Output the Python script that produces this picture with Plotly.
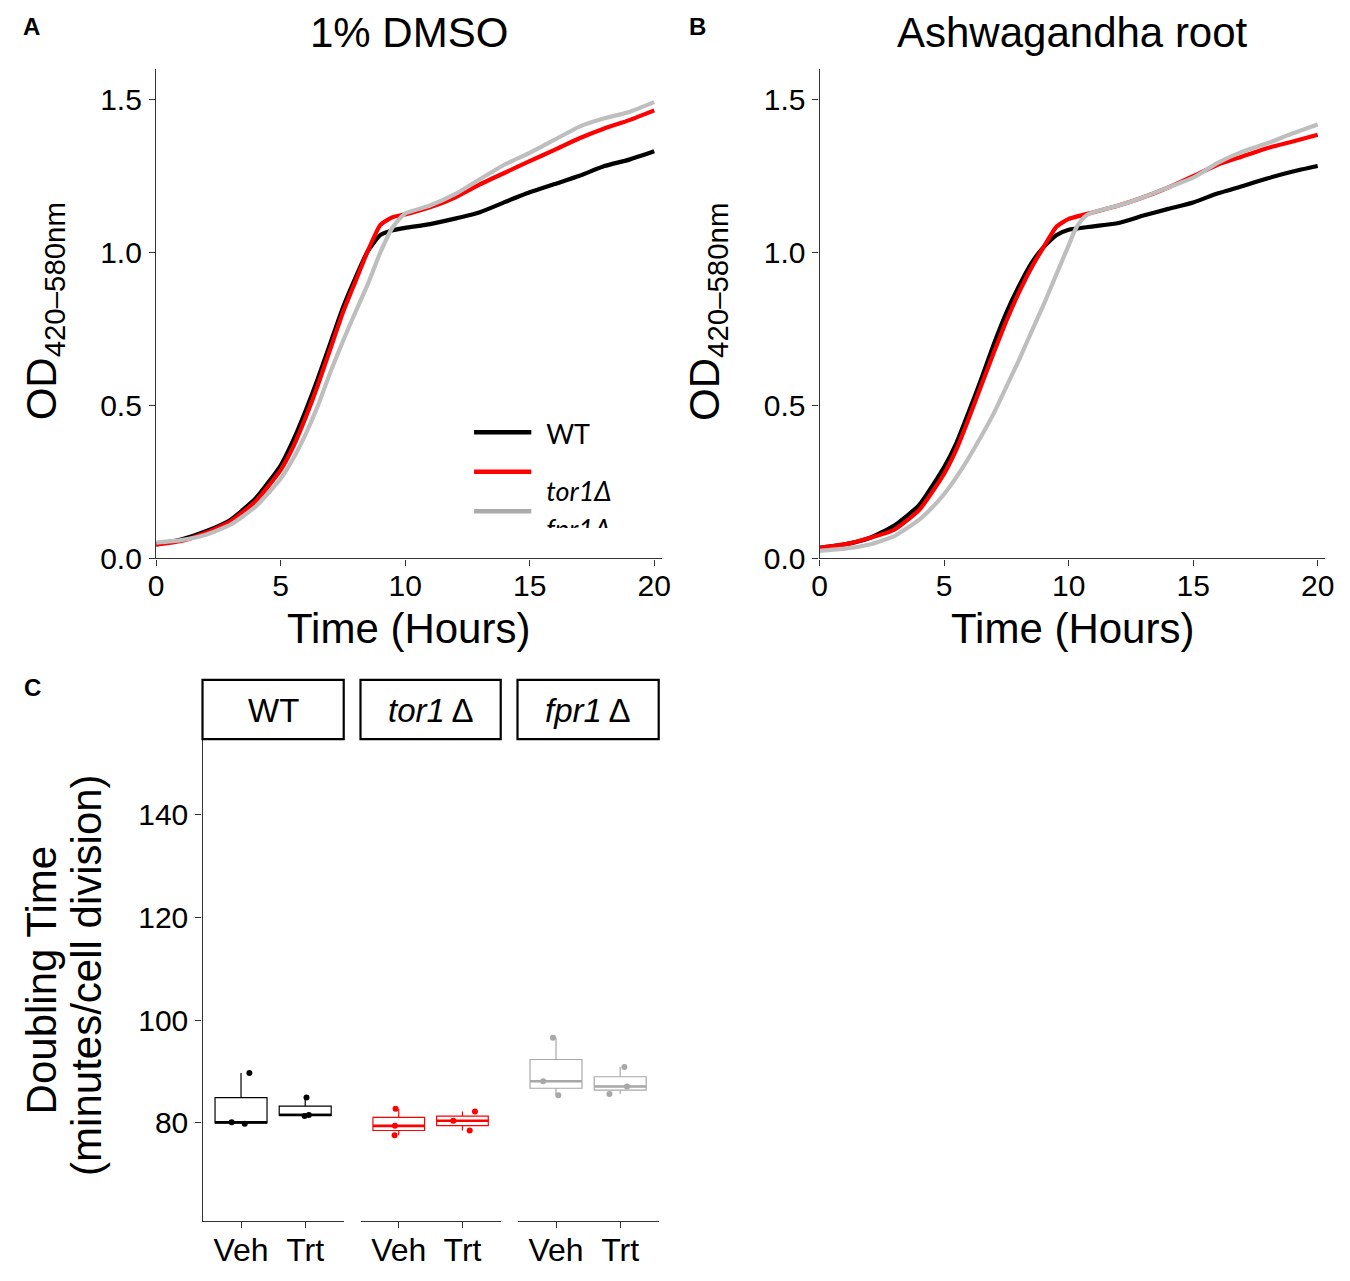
import numpy as np
import plotly.graph_objects as go

W, H = 1350, 1281
FONT = "Liberation Sans, Arial, sans-serif"

# ---------------- data ----------------
time_h = [0, 1, 2, 3, 4, 5, 5.5, 6, 6.5, 7, 7.5, 8, 8.5, 9, 9.5, 10,
          11, 12, 13, 14, 15, 16, 17, 18, 19, 20]

dmso_wt = [0.046, 0.062, 0.089, 0.127, 0.197, 0.304, 0.385, 0.482, 0.589, 0.705,
           0.820, 0.917, 1.005, 1.057, 1.073, 1.081, 1.093, 1.111, 1.132, 1.165,
           1.197, 1.224, 1.251, 1.283, 1.304, 1.331]
dmso_tor1 = [0.045, 0.057, 0.084, 0.122, 0.187, 0.289, 0.364, 0.460, 0.568, 0.686,
             0.804, 0.905, 1.005, 1.090, 1.116, 1.125, 1.148, 1.180, 1.223, 1.261,
             1.299, 1.336, 1.374, 1.406, 1.433, 1.465]
dmso_fpr1 = [0.052, 0.060, 0.078, 0.111, 0.170, 0.261, 0.326, 0.406, 0.500, 0.610,
             0.710, 0.805, 0.897, 1.000, 1.083, 1.128, 1.154, 1.191, 1.240, 1.288,
             1.326, 1.369, 1.412, 1.439, 1.460, 1.492]

ash_wt = [0.035, 0.046, 0.067, 0.108, 0.175, 0.299, 0.379, 0.482, 0.589, 0.702,
          0.804, 0.890, 0.965, 1.019, 1.057, 1.075, 1.086, 1.097, 1.121, 1.143,
          1.164, 1.194, 1.218, 1.243, 1.265, 1.283]
ash_tor1 = [0.035, 0.046, 0.067, 0.094, 0.159, 0.277, 0.358, 0.460, 0.568, 0.675,
            0.777, 0.869, 0.950, 1.019, 1.084, 1.110, 1.132, 1.154, 1.181, 1.213,
            1.250, 1.288, 1.315, 1.342, 1.363, 1.385]
time_h_ash_fpr1 = [0, 1, 2, 3, 4, 4.5, 5, 5.5, 6, 6.5, 7, 7.5, 8, 8.5, 9, 9.5, 10,
                   10.25, 10.5, 10.75, 11, 12, 13, 14, 15, 16, 17, 18, 19, 20]
ash_fpr1 = [0.025, 0.032, 0.046, 0.073, 0.127, 0.165, 0.211, 0.267, 0.331, 0.401,
            0.476, 0.562, 0.648, 0.740, 0.831, 0.928, 1.024, 1.073, 1.105, 1.124,
            1.132, 1.154, 1.181, 1.213, 1.245, 1.294, 1.331, 1.358, 1.390, 1.419]

strains = ["WT", "tor1Δ", "fpr1Δ"]
strain_labels = ["WT", "<i>tor1</i>\u2009Δ", "<i>fpr1</i>\u2009Δ"]
legend_labels = ["WT", "<i>tor1Δ</i>", "<i>fpr1Δ</i>"]
treatments = ["Veh", "Trt"]

# doubling time (minutes/cell division), three replicates each
wt_veh = [80.06, 79.8, 89.7]
wt_trt = [81.3, 81.5, 84.9]
tor1_veh = [82.7, 79.37, 77.56]
tor1_trt = [80.38, 82.17, 78.46]
fpr1_veh = [96.54, 88.08, 85.33]
fpr1_trt = [90.83, 87.06, 85.58]

# horizontal jitter of the plotted replicate points
jit_wt_veh = [-0.146, 0.058, 0.13]
jit_wt_trt = [-0.01, 0.057, 0.02]
jit_tor1_veh = [-0.05, -0.06, -0.065]
jit_tor1_trt = [-0.145, 0.196, 0.113]
jit_fpr1_veh = [-0.047, -0.2, 0.036]
jit_fpr1_trt = [0.065, 0.105, -0.168]

line_colors = ["#000000", "#FF0000", "#BEBEBE"]
box_colors = ["#000000", "#FF0000", "#A8A8A8"]
legend_key_colors = ["#000000", "#FF0000", "#ABABAB"]


def px(xp):
    return xp / W


def py(yp):
    return 1 - yp / H


fig = go.Figure()

# ---------------- growth curves ----------------
curves_a = [(time_h, dmso_wt), (time_h, dmso_tor1), (time_h, dmso_fpr1)]
curves_b = [(time_h, ash_wt), (time_h, ash_tor1), (time_h_ash_fpr1, ash_fpr1)]
for (xa, ya), name, col in zip(curves_a, strains, line_colors):
    fig.add_trace(go.Scatter(x=xa, y=ya, mode="lines", name=name,
                             line=dict(color=col, width=4.2, shape="spline",
                                       smoothing=0.5),
                             xaxis="x", yaxis="y", showlegend=False))
for (xb, yb), name, col in zip(curves_b, strains, line_colors):
    fig.add_trace(go.Scatter(x=xb, y=yb, mode="lines", name=name,
                             line=dict(color=col, width=4.2, shape="spline",
                                       smoothing=0.5),
                             xaxis="x2", yaxis="y2", showlegend=False))

# ---------------- box plots ----------------
groups = [
    [(wt_veh, jit_wt_veh), (wt_trt, jit_wt_trt)],
    [(tor1_veh, jit_tor1_veh), (tor1_trt, jit_tor1_trt)],
    [(fpr1_veh, jit_fpr1_veh), (fpr1_trt, jit_fpr1_trt)],
]
box_w = 0.81
for i, (grp, col) in enumerate(zip(groups, box_colors)):
    xa = "x%d" % (3 + i)
    for j, (vals, jit) in enumerate(grp):
        pos = j + 1
        fig.add_trace(go.Box(
            x=[pos] * len(vals), y=vals, width=box_w,
            quartilemethod="inclusive", boxpoints=False, whiskerwidth=0,
            line=dict(color=col, width=1.2), fillcolor="rgba(255,255,255,0)",
            xaxis=xa, yaxis="y3", showlegend=False, hoverinfo="skip"))
        med = float(np.median(vals))
        fig.add_trace(go.Scatter(
            x=[pos - box_w / 2, pos + box_w / 2], y=[med, med], mode="lines",
            line=dict(color=col, width=2.6), xaxis=xa, yaxis="y3",
            showlegend=False, hoverinfo="skip"))
        fig.add_trace(go.Scatter(
            x=[pos + d for d in jit], y=vals, mode="markers",
            marker=dict(color=col, size=6), xaxis=xa, yaxis="y3",
            showlegend=False, hoverinfo="skip"))

# ---------------- legend (inside panel A, clipped at bottom) ----------------
legend_y = [443, 501, 539]
fig.add_trace(go.Scatter(
    x=[545, 545, 545], y=legend_y, mode="text", text=legend_labels,
    textposition="middle right",
    textfont=dict(family="Lato, Carlito, sans-serif", size=27, color="#000000"),
    xaxis="x6", yaxis="y6", showlegend=False, hoverinfo="skip", cliponaxis=True))

shapes = []
for yk, col in zip([438, 478, 518], legend_key_colors):
    shapes.append(dict(type="line", xref="paper", yref="paper",
                       x0=px(472), x1=px(530), y0=py(yk), y1=py(yk),
                       line=dict(color=col, width=4.5)))

# strip boxes for panel C
strip_x = [(197, 340), (357, 499), (516, 659)]
for (x0, x1) in strip_x:
    shapes.append(dict(type="rect", xref="paper", yref="paper",
                       x0=px(x0), x1=px(x1), y0=py(749), y1=py(689),
                       line=dict(color="#000000", width=2.2),
                       fillcolor="rgba(0,0,0,0)"))

# ---------------- axes ----------------
axis_common = dict(showgrid=False, zeroline=False, showline=True,
                   linecolor="#333333", linewidth=1.4, ticks="outside",
                   ticklen=6, tickwidth=1.4, tickcolor="#333333",
                   tickfont=dict(family=FONT, size=30, color="#000000"),
                   fixedrange=True)

layout = dict(
    width=W, height=H, margin=dict(l=0, r=0, t=0, b=0),
    paper_bgcolor="white", plot_bgcolor="rgba(0,0,0,0)",
    font=dict(family=FONT, color="#000000"), showlegend=False,
    shapes=shapes,
)

# panel A
layout["xaxis"] = dict(axis_common, domain=[px(150), px(662)], range=[0, 20.3],
                       tickvals=[0, 5, 10, 15, 20], anchor="y",
                       ticklabelstandoff=-6)
layout["yaxis"] = dict(axis_common, domain=[py(566), py(70)], range=[0, 1.6],
                       tickvals=[0, 0.5, 1.0, 1.5], tickformat=".1f", anchor="x",
                       ticklabelstandoff=1)
# panel B
layout["xaxis2"] = dict(axis_common, domain=[px(822), px(1334)], range=[0, 20.3],
                        tickvals=[0, 5, 10, 15, 20], anchor="y2",
                        ticklabelstandoff=-6)
layout["yaxis2"] = dict(axis_common, domain=[py(566), py(70)], range=[0, 1.6],
                        tickvals=[0, 0.5, 1.0, 1.5], tickformat=".1f", anchor="x2",
                        ticklabelstandoff=1)
# panel C facets
for i, (x0, x1) in enumerate(strip_x):
    layout["xaxis%d" % (3 + i)] = dict(axis_common, domain=[px(x0), px(x1)],
                                       range=[0.4, 2.6], tickvals=[1, 2],
                                       ticktext=treatments, anchor="y3",
                                       ticklabelstandoff=-5,
                                       tickfont=dict(family=FONT, size=32,
                                                     color="#000000"))
layout["yaxis3"] = dict(axis_common, domain=[py(1237), py(750)],
                        range=[60.9, 154.6], tickvals=[80, 100, 120, 140],
                        anchor="x3", ticklabelstandoff=1)
# legend clip axis
layout["xaxis6"] = dict(domain=[px(540), px(660)], range=[540, 660], visible=False,
                        fixedrange=True, anchor="y6")
layout["yaxis6"] = dict(domain=[py(535), py(415)], range=[535, 415], visible=False,
                        fixedrange=True, anchor="x6")

# ---------------- text annotations ----------------
ann = []


def add_text(text, xp, yp, size, angle=0, **kw):
    ann.append(dict(text=text, x=px(xp), y=py(yp), xref="paper", yref="paper",
                    showarrow=False, textangle=angle, xanchor="center",
                    yanchor="middle", font=dict(family=FONT, size=size,
                                                color="#000000"), **kw))


add_text("<b>A</b>", 24, 27, 24)
add_text("<b>B</b>", 698, 27, 24)
add_text("<b>C</b>", 25, 697, 24)
add_text("1% DMSO", 406, 33, 42)
add_text("Ashwagandha root", 1078, 33, 42)
add_text("Time (Hours)", 406, 637, 42)
add_text("Time (Hours)", 1078, 637, 42)
add_text("OD<sub>420–580nm</sub>", 37, 316, 42, angle=-90)
add_text("OD<sub>420–580nm</sub>", 709, 316, 42, angle=-90)
add_text("Doubling Time", 34, 994, 42, angle=-90)
add_text("(minutes/cell division)", 80, 988, 42, angle=-90)
for (x0, x1), lab in zip(strip_x, strain_labels):
    add_text(lab, (x0 + x1) / 2, 720, 33)

layout["annotations"] = ann
fig.update_layout(**layout)

fig.write_html("out.html", include_plotlyjs=True, config={"displayModeBar": False})
